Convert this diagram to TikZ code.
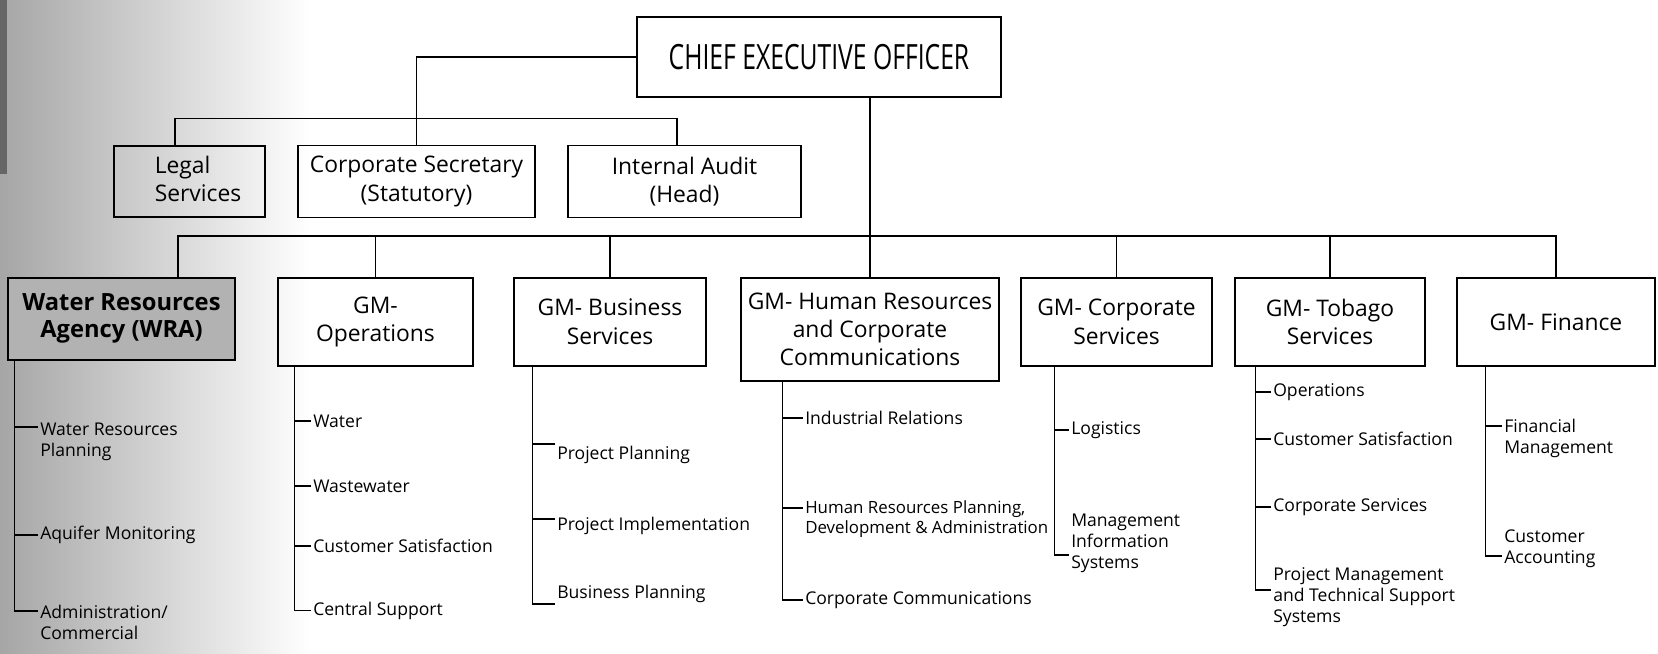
\documentclass[tikz,border=0pt]{standalone}
\usepackage{fontspec}
\setmainfont{Open Sans}
\newfontfamily\ceofont[FakeStretch=0.71]{Open Sans}
\usetikzlibrary{positioning,calc}

\tikzset{
  unit/.style={draw, line width=0.9pt, align=center, inner sep=2pt,
    font=\fontsize{13}{16}\selectfont},
  gm/.style={unit, anchor=north, minimum height=1.76cm},
  sub/.style={anchor=west, align=left, inner sep=1pt,
    font=\fontsize{10}{12}\selectfont},
}

\begin{document}
\begin{tikzpicture}[line width=0.6pt]
\useasboundingbox (0,0) rectangle (33.16,13.08);
% grey shadow of the copy along the left edge
\shade[left color=black!35, right color=white] (0,0) rectangle (6.2,13.08);
\fill[black!60] (0,9.6) rectangle (0.15,13.08);

% top level and staff units
\node (ceo) at (16.38,11.94)[unit, minimum width=7.28cm, minimum height=1.6cm,
  font=\ceofont\fontsize{19.8}{22}\selectfont] {CHIEF EXECUTIVE OFFICER};
\node (legal) at (3.79,9.45)[unit, minimum width=3.02cm, minimum height=1.42cm]
  {\hspace*{0.34cm}\begin{tabular}{@{}l@{}}Legal\\Services\end{tabular}};
\node (corpsec) at (8.33,9.45)[unit, minimum width=4.74cm, minimum height=1.44cm] {Corporate Secretary\\(Statutory)};
\node (audit) at (13.69,9.45)[unit, minimum width=4.66cm, minimum height=1.44cm] {Internal Audit\\(Head)};

% general managers
\node (wra) at (2.43,7.54)[gm, minimum width=4.54cm, minimum height=1.64cm, fill=black!30,
  font=\fontsize{13.5}{15.3}\selectfont\bfseries] {Water Resources\\Agency (WRA)};
\node (ops) at (7.51,7.54)[gm, minimum width=3.9cm] {GM-\\Operations};
\node (bus) at (12.2,7.54)[gm, minimum width=3.84cm] {GM- Business\\Services};
\node (hr) at (17.4,7.54)[gm, minimum width=5.16cm, minimum height=2.06cm] {GM- Human Resources\\and Corporate\\Communications};
\node (cs) at (22.33,7.54)[gm, minimum width=3.82cm] {GM- Corporate\\Services};
\node (tob) at (26.6,7.54)[gm, minimum width=3.8cm] {GM- Tobago\\Services};
\node (fin) at (31.12,7.54)[gm, minimum width=3.96cm] {GM- Finance};

% sections under each manager
\node (wra1) at (0.76,4.24)[sub] {Water Resources\\Planning};
\node (wra2) at (0.76,2.38)[sub] {Aquifer Monitoring};
\node (wra3) at (0.76,0.64)[sub] {Administration/\\Commercial};

\node (o1) at (6.22,4.66)[sub] {Water};
\node (o2) at (6.22,3.36)[sub] {Wastewater};
\node (o3) at (6.22,2.16)[sub] {Customer Satisfaction};
\node (o4) at (6.22,0.87)[sub] {Central Support};

\node (b1) at (11.1,3.98)[sub] {Project Planning};
\node (b2) at (11.1,2.56)[sub] {Project Implementation};
\node (b3) at (11.1,1.2)[sub] {Business Planning};

\node (h1) at (16.06,4.72)[sub] {Industrial Relations};
\node (h2) at (16.06,2.7)[sub, font=\fontsize{9.6}{11.6}\selectfont] {Human Resources Planning,\\Development \& Administration};
\node (h3) at (16.06,1.08)[sub] {Corporate Communications};

\node (c1) at (21.38,4.48)[sub] {Logistics};
\node (c2) at (21.38,2.22)[sub] {Management\\Information\\Systems};

\node (t1) at (25.42,5.24)[sub] {Operations};
\node (t2) at (25.42,4.3)[sub] {Customer Satisfaction};
\node (t3) at (25.42,2.94)[sub] {Corporate Services};
\node (t4) at (25.42,1.14)[sub] {Project Management\\and Technical Support\\Systems};

\node (f1) at (30.04,4.32)[sub] {Financial\\Management};
\node (f2) at (30.04,2.1)[sub] {Customer\\Accounting};

% CEO to the staff units
\draw (ceo.west) -| (corpsec.north);
\draw ([xshift=-0.29cm]legal.north) |- ($(audit.north)+(-0.15,0.53)$) -- ([xshift=-0.15cm]audit.north);

% CEO down to HR, and the managers' bar
\draw (ceo.south -| hr.north) -- (hr.north);
\coordinate (gmbar) at (0,8.36);
\draw ([xshift=1.13cm]wra.north) |- (gmbar -| fin.north) -- (fin.north);
\foreach \n in {ops,bus,cs,tob}
  \draw (\n.north) -- (\n.north |- gmbar);

% trunks and ticks
\foreach \b/\dx/\last/\dy in {wra/0.14/wra3/0.22, ops/0.34/o4/0, bus/0.38/b3/-0.2,
    hr/0.84/h3/0, cs/0.68/c2/-0.24, tob/0.42/t4/0.14, fin/0.58/f2/-0.14}
  \draw ([xshift=\dx cm]\b.south west) coordinate (\b-trunk) |- ([yshift=\dy cm]\last.west);
\foreach \i/\b/\dy in {wra1/wra/0.3, wra2/wra/0, o1/ops/0, o2/ops/0, o3/ops/0,
    b1/bus/0.22, b2/bus/0.14, h1/hr/0, h2/hr/0.22, c1/cs/0,
    t1/tob/0, t2/tob/0, t3/tob/0, f1/fin/0.24}
  \draw ([yshift=\dy cm]\i.west) coordinate (tick) -- (tick -| \b-trunk);
\end{tikzpicture}
\end{document}
